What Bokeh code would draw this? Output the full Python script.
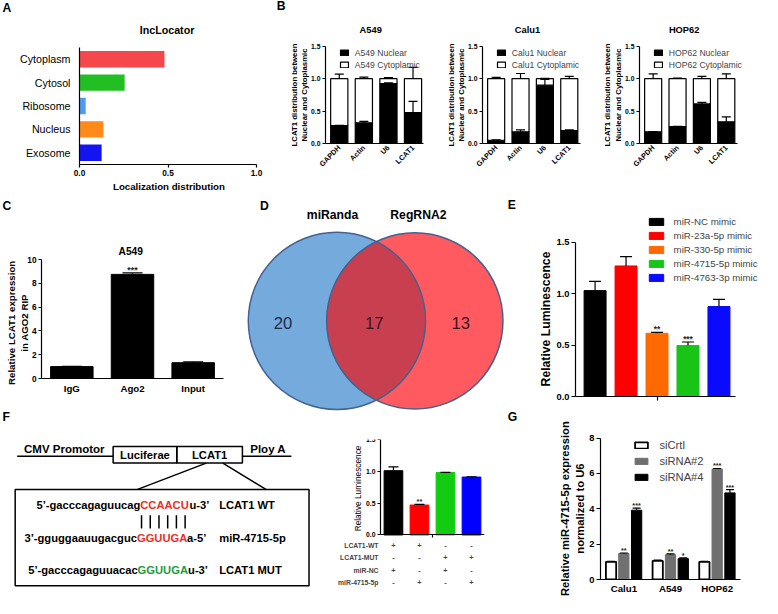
from math import pi
import numpy as np
from bokeh.plotting import figure
from bokeh.models import (Range1d, FactorRange, FixedTicker, NumeralTickFormatter, Whisker, TeeHead,
                          ColumnDataSource, Legend, LegendItem, LabelSet, GridBox)
from bokeh.embed import file_html
from bokeh.resources import INLINE
from bokeh.core.properties import value

# ---------------- data ----------------
loc_cats = ["Cytoplasm", "Cytosol", "Ribosome", "Nucleus", "Exosome"]
loc_vals = [0.48, 0.255, 0.035, 0.135, 0.125]
loc_colors = ["#f5474c", "#22bf22", "#4f9cee", "#ff8a1a", "#1414f0"]

marker_cats = ["GAPDH", "Actin", "U6", "LCAT1"]
a549_nuc = [0.275, 0.32, 0.925, 0.475]
a549_nuc_err = [0.005, 0.02, 0.01, 0.175]
a549_tot_err = [0.07, 0.025, 0.015, 0.175]
calu1_nuc = [0.05, 0.18, 0.90, 0.20]
calu1_nuc_err = [0.005, 0.03, 0.09, 0.01]
calu1_tot_err = [0.02, 0.08, 0.005, 0.035]
hop62_nuc = [0.18, 0.26, 0.61, 0.335]
hop62_nuc_err = [0.005, 0.005, 0.025, 0.075]
hop62_tot_err = [0.075, 0.01, 0.035, 0.075]

rip_cats = ["IgG", "Ago2", "Input"]
rip_vals = [1.0, 8.75, 1.33]
rip_err = [0.03, 0.12, 0.07]
rip_sig = ["", "***", ""]

venn_sets = ["miRanda", "RegRNA2"]
venn_counts = [20, 17, 13]   # miRanda only, both, RegRNA2 only

mimic_names = ["miR-NC mimic", "miR-23a-5p mimic", "miR-330-5p mimic", "miR-4715-5p mimic", "miR-4763-3p mimic"]
mimic_vals = [1.03, 1.27, 0.615, 0.495, 0.875]
mimic_err = [0.09, 0.09, 0.008, 0.035, 0.07]
mimic_colors = ["#000000", "#ff0000", "#ff6a00", "#17c417", "#0a0aff"]
mimic_sig = ["", "", "**", "***", ""]

rep_vals = [1.01, 0.47, 0.98, 0.91]
rep_err = [0.06, 0.01, 0.005, 0.005]
rep_colors = ["#000000", "#ff0000", "#11cc11", "#0000ff"]
rep_sig = ["", "**", "", ""]
cond_labels = ["LCAT1-WT", "LCAT1-MUT", "miR-NC", "miR-4715-5p"]
cond_marks = [["+", "+", "-", "-"],
              ["-", "-", "+", "+"],
              ["+", "-", "+", "-"],
              ["-", "+", "-", "+"]]

cell_lines = ["Calu1", "A549", "HOP62"]
si_series = ["siCrtl", "siRNA#2", "siRNA#4"]
sictrl_vals = [1.0, 1.05, 1.0]
sirna2_vals = [1.47, 1.40, 6.25]
sirna4_vals = [3.92, 1.18, 4.90]
sictrl_err = [0.03, 0.05, 0.02]
sirna2_err = [0.03, 0.05, 0.03]
sirna4_err = [0.12, 0.04, 0.18]
sictrl_sig = ["", "", ""]
sirna2_sig = ["**", "**", "***"]
sirna4_sig = ["***", "*", "***"]

seq_rows = [("5\u2019-gacccagaguucag", "CCAACU", "u-3\u2019", "LCAT1 WT", "#e8302a"),
            ("3\u2019-gguggaauugacguc", "GGUUGA", "a-5\u2019", "miR-4715-5p", "#e8302a"),
            ("5\u2019-gacccagaguuacac", "GGUUGA", "u-3\u2019", "LCAT1 MUT", "#1f9a3c")]

# ---------------- layout helpers ----------------
W, H = 762, 598
RW, RH = 778, 614
SX, SY = W / RW, H / RH
FONT = "Liberation Sans"
LEG_DX, LEG_DY = 5.0, 8.5   # empirical legend placement correction (px)


def X(r):
    return r * SX


def Y(r):
    return r * SY


def fs(px):
    return f"{px * SY:.1f}px"


def lin(d0, d1, p0, p1, p):
    return d0 + (p - p0) * (d1 - d0) / (p1 - p0)


def axfig(left, right, top, bottom, x_range, y_range):
    p = figure(width=W, height=H, x_range=x_range, y_range=y_range, output_backend="svg",
               toolbar_location=None, title=None,
               min_border_left=int(round(X(left))), min_border_right=max(0, int(round(W - X(right)))),
               min_border_top=int(round(Y(top))), min_border_bottom=int(round(H - Y(bottom))))
    p.frame_align = False
    p.background_fill_color = None
    p.border_fill_color = None
    p.outline_line_color = None
    p.xgrid.visible = False
    p.ygrid.visible = False
    for ax in p.axis:
        ax.axis_line_color = "black"
        ax.axis_line_width = 1.2
        ax.major_tick_line_color = "black"
        ax.major_tick_line_width = 1.2
        ax.major_tick_out = 3
        ax.major_tick_in = 0
        ax.minor_tick_line_color = None
        ax.major_label_text_font = FONT
        ax.major_label_text_font_style = "bold"
        ax.major_label_text_color = "black"
        ax.major_label_standoff = 2
    return p


def whisk(p, base, lower, upper, src, size, lw=1.2):
    w = Whisker(base=base, lower=lower, upper=upper, source=src, level="annotation",
                lower_head=None, upper_head=TeeHead(size=size, line_width=lw, line_color="black"),
                line_color="black", line_width=lw)
    p.add_layout(w)


def stars(p, x, y, text, src, size):
    p.add_layout(LabelSet(x=x, y=y, text=text, source=src, text_align="center",
                          text_baseline="alphabetic", text_font=value(FONT),
                          text_font_style="bold", text_font_size=fs(size), text_color="#222222"))


def legend(items, loc, gw, gh, size, lh, standoff):
    return Legend(items=items, location=(loc[0] + LEG_DX, loc[1] - LEG_DY), glyph_width=gw, glyph_height=gh,
                  label_text_font=FONT, label_text_font_size=fs(size), label_height=lh,
                  spacing=1, padding=0, margin=0, label_standoff=standoff,
                  border_line_color=None, background_fill_alpha=0)


figs = []

# ---------------- overlay (letters, titles, labels, Venn, diagram) ----------------
ov = figure(width=W, height=H, x_range=Range1d(0, RW), y_range=Range1d(RH, 0), output_backend="svg",
            toolbar_location=None, title=None, min_border=0, x_axis_type=None, y_axis_type=None)
ov.frame_align = False
ov.background_fill_color = None
ov.border_fill_color = None
ov.outline_line_color = None
figs.append(ov)


def T(x, y, s, size, bold=True, align="left", angle=0.0, color="black", font=FONT):
    ov.text(x=[x], y=[y], text=[s], text_font=value(font), text_font_size=fs(size),
            text_font_style="bold" if bold else "normal", text_align=align,
            text_baseline="middle", angle=angle, text_color=color)


for letter, lx, ly in [("A", 2, 7.5), ("B", 282, 6), ("C", 2, 211), ("D", 265, 211),
                       ("E", 518, 210), ("F", 2, 427.5), ("G", 518, 428)]:
    T(lx, ly, letter, 12.5)

# Panel A texts
T(170, 30, "IncLocator", 11, align="center")
T(172, 191, "Localization distribution", 10, align="center")

# Panel B texts
for name, axl in [("A549", 332), ("Calu1", 492), ("HOP62", 652)]:
    T(axl + 46, 30, name, 9.5, align="center")
    T(axl - 32, 97, "LCAT1 distribution between", 8, align="center", angle=pi / 2)
    T(axl - 21.5, 97, "Nuclear and Cytoplasmic", 8, align="center", angle=pi / 2)

# Panel C texts
T(133, 257.5, "A549", 10.5, align="center")
T(11.7, 331, "Relative LCAT1 expression", 10, align="center", angle=pi / 2)
T(25, 331, "in AGO2 RIP", 10, align="center", angle=pi / 2)

# Panel E / F / G axis titles
T(556.7, 327, "Relative Luminescence", 12.5, align="center", angle=pi / 2)
T(365, 501, "Relative Luminescence", 8.5, bold=False, align="center", angle=pi / 2)
T(576.7, 521.7, "Relative miR-4715-5p expression", 11.5, align="center", angle=pi / 2)
T(591.7, 521.7, "normalized to U6", 11.5, align="center", angle=pi / 2)

# Venn diagram (panel D)
bx, rx, vy0, br, rr = 343.5, 423.0, 329.0, 90.5, 90.0
k = SX / SY
ov.circle(x=[bx], y=[vy0], radius=br, fill_color="#74aadc", line_color=None)
ov.circle(x=[rx], y=[vy0], radius=rr, fill_color="#ff5a5f", line_color=None)
d = rx - bx
a = (br ** 2 - rr ** 2 + d ** 2) / (2 * d)
h = np.sqrt(br ** 2 - a ** 2)
p1 = np.arctan2(h, a)
p2 = np.arctan2(h, a - d)
t1 = np.linspace(-p1, p1, 80)
t2 = np.linspace(p2, 2 * np.pi - p2, 80)
lx = np.concatenate([bx + br * np.cos(t1), rx + rr * np.cos(t2)])
ly = np.concatenate([vy0 + br * np.sin(t1) * k, vy0 + rr * np.sin(t2) * k])
ov.patch(x=lx, y=ly, fill_color="#c8404f", line_color=None)
ov.circle(x=[bx, rx], y=[vy0, vy0], radius=[br, rr], fill_color=None, line_color="#44628f", line_width=1.5)
T(339, 220, venn_sets[0], 12.5, align="center")
T(426.7, 220, venn_sets[1], 12.5, align="center")
T(288.5, 331, str(venn_counts[0]), 17, bold=False, align="center", color="#1e2b4a")
T(381.7, 331, str(venn_counts[1]), 17, bold=False, align="center", color="#3a1520")
T(470, 331, str(venn_counts[2]), 17, bold=False, align="center", color="#3a1520")

# Construct diagram (panel F left)
ov.segment(x0=[17, 247, 210, 227], y0=[468, 468, 475, 475], x1=[115, 297, 140, 271], y1=[468, 468, 502, 502],
           line_color="black", line_width=1.5)
ov.quad(left=[115, 180, 15], right=[180, 247, 315], top=[458, 458, 502], bottom=[475, 475, 601],
        fill_color=None, line_color="black", line_width=1.5)
T(24, 461, "CMV Promotor", 11.8)
T(147.5, 466.5, "Luciferae", 11.5, align="center")
T(213.5, 466.5, "LCAT1", 11.5, align="center")
T(255, 461, "Ploy A", 11.8)
seq_y = [518, 551.7, 585]
seq_split = [142.7, 139.3, 140]
seq_end = [193, 190.5, 191.5]
for (pre, core, suf, lab, col), yy, xs, xe in zip(seq_rows, seq_y, seq_split, seq_end):
    T(xs, yy, pre, 11.5, align="right")
    T(xs, yy, core, 11.5, color=col)
    T(xe, yy, suf, 11.5)
    T(223.3, yy, lab, 11.5)
pair_x = np.linspace(144, 188.5, 6)
ov.segment(x0=pair_x, y0=[528.5] * 6, x1=pair_x, y1=[542] * 6, line_color="black", line_width=1.5)

# ---------------- Panel A ----------------
pA = axfig(81, 261, 48, 168, Range1d(0, 1), FactorRange(factors=loc_cats[::-1]))
srcA = ColumnDataSource(dict(cat=loc_cats, val=loc_vals, col=loc_colors))
pA.hbar(y="cat", left=0, right="val", height=0.7, fill_color="col", line_color=None, source=srcA)
pA.xaxis.ticker = FixedTicker(ticks=[0, 0.5, 1.0])
pA.xaxis.formatter = NumeralTickFormatter(format="0.0")
pA.xaxis.major_label_text_font_size = fs(8.5)
pA.yaxis.major_tick_out = 0
pA.yaxis.major_label_text_font_style = "normal"
pA.yaxis.major_label_text_font_size = fs(11)
pA.yaxis.major_label_standoff = 9
figs.append(pA)


# ---------------- Panel B ----------------
def make_B(name, axl, nuc, nuc_err, tot_err):
    bx0, bx1 = -0.56, 3.44
    y_end = lin(0, 1.5, 147, 47, 38)
    x_end = lin(bx0, bx1, axl, axl + 100, axl + 120)
    p = axfig(axl, axl + 120, 38, 147, Range1d(bx0, x_end), Range1d(0, y_end))
    xs = list(range(len(marker_cats)))
    src = ColumnDataSource(dict(x=xs, nuc=nuc, one=[1.0] * len(nuc),
                                nuc_hi=[n + e for n, e in zip(nuc, nuc_err)],
                                tot_hi=[1.0 + e for e in tot_err]))
    rn = p.vbar(x="x", bottom=0, top="nuc", width=0.7, fill_color="black", line_color="black",
                line_width=1.2, source=src)
    rc = p.vbar(x="x", bottom="nuc", top="one", width=0.7, fill_color="white", line_color="black",
                line_width=1.2, source=src)
    whisk(p, "x", "nuc", "nuc_hi", src, 9)
    whisk(p, "x", "one", "tot_hi", src, 9)
    p.xaxis.bounds = (bx0, bx1)
    p.yaxis.bounds = (0, 1.5)
    p.yaxis.ticker = FixedTicker(ticks=[0, 0.5, 1.0, 1.5])
    p.yaxis.formatter = NumeralTickFormatter(format="0.0")
    p.yaxis.major_label_text_font_size = fs(7)
    p.xaxis.ticker = FixedTicker(ticks=xs)
    p.xaxis.major_label_overrides = {i: c for i, c in zip(xs, marker_cats)}
    p.xaxis.major_label_orientation = pi / 4
    p.xaxis.major_label_text_font_size = fs(7.5)
    p.xaxis.major_tick_out = 0
    p.xaxis.major_label_standoff = 3
    leg = legend([LegendItem(label=f"{name} Nuclear", renderers=[rn]),
                  LegendItem(label=f"{name} Cytoplamic", renderers=[rc])],
                 (X(9), Y(79.5) + 4), 10, 7, 8.8, 11, 6)
    p.add_layout(leg)
    return p


figs.append(make_B("A549", 332, a549_nuc, a549_nuc_err, a549_tot_err))
figs.append(make_B("Calu1", 492, calu1_nuc, calu1_nuc_err, calu1_tot_err))
figs.append(make_B("HOP62", 652, hop62_nuc, hop62_nuc_err, hop62_tot_err))

# ---------------- Panel C ----------------
pC = axfig(42, 228, 266, 388, FactorRange(factors=rip_cats), Range1d(0, 10))
srcC = ColumnDataSource(dict(cat=rip_cats, val=rip_vals, hi=[v + e for v, e in zip(rip_vals, rip_err)], sig=rip_sig))
pC.vbar(x="cat", top="val", width=0.7, fill_color="black", line_color="black", source=srcC)
whisk(pC, "cat", "val", "hi", srcC, 20)
stars(pC, "cat", "hi", "sig", srcC, 9)
pC.yaxis.ticker = FixedTicker(ticks=[0, 2, 4, 6, 8, 10])
pC.yaxis.major_label_text_font_size = fs(8.5)
pC.xaxis.major_tick_out = 0
pC.xaxis.major_label_text_font_size = fs(10)
pC.xaxis.major_label_standoff = 4
figs.append(pC)

# ---------------- Panel E ----------------
ex0, ex1 = -0.632, 4.52
pE = axfig(587, 777, 208, 407, Range1d(ex0, lin(ex0, ex1, 587, 750, 777)), Range1d(0, lin(0, 1.5, 407, 248, 208)))
srcE = ColumnDataSource(dict(x=list(range(len(mimic_vals))), val=mimic_vals, col=mimic_colors,
                             hi=[v + e for v, e in zip(mimic_vals, mimic_err)], sig=mimic_sig))
rE = pE.vbar(x="x", top="val", width=0.71, fill_color="col", line_color="col", source=srcE)
whisk(pE, "x", "val", "hi", srcE, 12)
stars(pE, "x", "hi", "sig", srcE, 8.5)
pE.xaxis.bounds = (ex0, ex1)
pE.yaxis.bounds = (0, 1.5)
pE.yaxis.ticker = FixedTicker(ticks=[0, 0.5, 1.0, 1.5])
pE.yaxis.formatter = NumeralTickFormatter(format="0.0")
pE.yaxis.major_label_text_font_size = fs(9.5)
pE.yaxis.major_tick_out = 4
pE.xaxis.ticker = FixedTicker(ticks=[2])
pE.xaxis.major_label_overrides = {2: ""}
pE.xaxis.major_tick_out = 4
pE.add_layout(legend([LegendItem(label=n, renderers=[rE], index=i) for i, n in enumerate(mimic_names)],
                     (X(68), Y(124)), 18, 9, 10, 13, 9))
figs.append(pE)

# ---------------- Panel F (right) ----------------
fx0, fx1 = -0.5, 3.5
pF = axfig(330, 494, 451, 606, Range1d(lin(fx0, fx1, 388, 494, 330), fx1),
           Range1d(lin(0, 1.5, 549, 451, 606), 1.5))
srcF = ColumnDataSource(dict(x=list(range(len(rep_vals))), val=rep_vals, col=rep_colors,
                             hi=[v + e for v, e in zip(rep_vals, rep_err)], sig=rep_sig))
pF.vbar(x="x", top="val", width=0.72, fill_color="col", line_color="col", source=srcF)
whisk(pF, "x", "val", "hi", srcF, 10)
stars(pF, "x", "hi", "sig", srcF, 7.5)
pF.xaxis.fixed_location = 0
pF.yaxis.fixed_location = fx0
pF.xaxis.bounds = (fx0, fx1)
pF.yaxis.bounds = (0, 1.5)
pF.yaxis.ticker = FixedTicker(ticks=[0, 0.5, 1.0, 1.5])
pF.yaxis.formatter = NumeralTickFormatter(format="0.0")
pF.yaxis.major_label_text_font_size = fs(7)
pF.xaxis.ticker = FixedTicker(ticks=[1.5])
pF.xaxis.major_label_overrides = {1.5: ""}
pF.xaxis.major_label_text_font_size = "1px"
pF.xaxis.major_label_standoff = 0
pF.xaxis.major_tick_out = 3
unit_px = (549 - 451) / 1.5
row_off = [11, 23.5, 36, 48.5]
row_y = [-o / unit_px for o in row_off]
tx, ty, tt = [], [], []
for r, marks in enumerate(cond_marks):
    for i, m in enumerate(marks):
        tx.append(i)
        ty.append(row_y[r])
        tt.append(m)
pF.add_layout(LabelSet(x="x", y="y", text="t", source=ColumnDataSource(dict(x=tx, y=ty, t=tt)),
                       text_align="center", text_baseline="middle", text_font=value(FONT),
                       text_font_style="bold", text_font_size=fs(7.5)))
pF.add_layout(LabelSet(x="x", y="y", text="t",
                       source=ColumnDataSource(dict(x=[fx0 - 2 / 26.5] * 4, y=row_y, t=cond_labels)),
                       text_align="right", text_baseline="middle", text_font=value(FONT),
                       text_font_style="bold", text_font_size=fs(7)))
figs.append(pF)

# ---------------- Panel G ----------------
pG = axfig(613, 755.5, 436, 595, Range1d(-0.5, 2.5), Range1d(0, lin(0, 8, 595, 449, 436)))
g_off = [-0.274, 0.0, 0.274]
g_fill = ["white", "#707070", "black"]
g_line = ["black", "#707070", "black"]
g_lw = [1.8, 1.0, 1.0]
g_vals = [sictrl_vals, sirna2_vals, sirna4_vals]
g_errs = [sictrl_err, sirna2_err, sirna4_err]
g_sigs = [sictrl_sig, sirna2_sig, sirna4_sig]
g_items = []
for s, off, fc, lc, lw, vals, errs, sigs in zip(si_series, g_off, g_fill, g_line, g_lw, g_vals, g_errs, g_sigs):
    src = ColumnDataSource(dict(x=[i + off for i in range(len(cell_lines))], val=vals,
                                hi=[v + e for v, e in zip(vals, errs)], sig=sigs))
    r = pG.vbar(x="x", top="val", width=0.22, fill_color=fc, line_color=lc, line_width=lw, source=src)
    whisk(pG, "x", "val", "hi", src, 8)
    stars(pG, "x", "hi", "sig", src, 7.5)
    g_items.append(LegendItem(label=s, renderers=[r]))
pG.yaxis.bounds = (0, 8)
pG.yaxis.ticker = FixedTicker(ticks=[0, 2, 4, 6, 8])
pG.yaxis.major_label_text_font_size = fs(9.5)
pG.yaxis.major_tick_out = 4
pG.xaxis.ticker = FixedTicker(ticks=list(range(len(cell_lines))))
pG.xaxis.major_label_overrides = {i: c for i, c in enumerate(cell_lines)}
pG.xaxis.major_tick_out = 0
pG.xaxis.major_label_text_font_size = fs(10)
pG.xaxis.major_label_standoff = 3
pG.add_layout(legend(g_items, (X(29), Y(106)), 16, 8, 11.5, 15, 10))
figs.append(pG)

grid = GridBox(children=[(f, 0, 0) for f in figs])
open("out.html", "w").write(file_html(grid, INLINE))
